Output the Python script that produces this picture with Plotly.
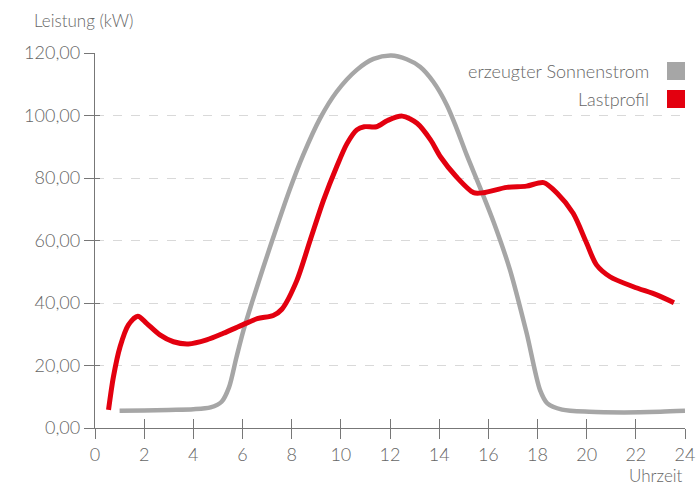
import plotly.graph_objects as go

# Erzeugter Sonnenstrom (grau)
sun_x = [1.0, 2.0, 3.0, 4.0, 4.7, 5.15, 5.45, 5.75, 6.03, 6.4, 6.85, 7.4, 7.93, 8.47, 9.15, 9.83,
         10.65, 11.33, 12.05, 12.68, 13.22, 13.76, 14.31, 14.71, 15.12, 15.66, 16.21, 16.88, 17.56,
         18.1, 18.4, 19.0, 20.1, 21.5, 23.0, 24.0]
sun_y = [5.5, 5.6, 5.8, 6.0, 6.6, 8.4, 13.0, 22.5, 31.0, 40.5, 51.5, 64.5, 76.5, 87.4, 99.0, 107.6,
         114.6, 118.1, 119.2, 118.0, 115.6, 110.8, 103.4, 95.9, 87.4, 77.0, 66.0, 50.6, 30.3,
         12.2, 7.9, 5.9, 5.2, 5.0, 5.2, 5.5]

# Lastprofil (rot)
load_x = [0.55, 0.75, 1.02, 1.36, 1.74, 2.1, 2.64, 3.19, 3.8, 4.54, 5.22, 6.0, 6.6, 7.25, 7.6, 8.2,
          8.75, 9.3, 9.83, 10.25, 10.65, 10.95, 11.45, 11.9, 12.5, 13.1, 13.65, 14.05, 14.7, 15.4,
          15.8, 16.75, 17.55, 18.25, 18.8, 19.45, 20.0, 20.4, 20.95, 21.9, 22.85, 23.55]
load_y = [5.8, 16.4, 26.0, 33.0, 35.8, 33.5, 29.8, 27.6, 26.9, 28.2, 30.3, 33.0, 35.0, 36.0, 38.0, 47.0,
          60.0, 73.0, 83.6, 91.0, 95.4, 96.4, 96.4, 98.4, 99.8, 97.5, 92.2, 86.8, 80.4, 75.3,
          75.3, 77.0, 77.4, 78.5, 75.1, 68.7, 59.1, 52.2, 48.4, 45.2, 42.6, 40.1]

x_ticks = list(range(0, 25, 2))
y_ticks = [0, 20, 40, 60, 80, 100, 120]
series_names = ["erzeugter Sonnenstrom", "Lastprofil"]
GRAY = "#a6a6a6"
RED = "#e3000f"
TXT = "#666666"
AX = "#777777"
FONT = "Lato"

fig = go.Figure()
fig.add_trace(go.Scatter(x=sun_x, y=sun_y, mode="lines", name=series_names[0],
                         line=dict(color=GRAY, width=4.5, shape="spline", smoothing=0.8)))
fig.add_trace(go.Scatter(x=load_x, y=load_y, mode="lines", name=series_names[1],
                         line=dict(color=RED, width=5, shape="spline", smoothing=0.8)))

fig.update_layout(
    width=697, height=487,
    margin=dict(l=95, r=12, t=53, b=59, autoexpand=False),
    paper_bgcolor="white", plot_bgcolor="white",
    showlegend=False,
    separators=",.",
    font=dict(family=FONT, color=TXT, size=17, weight=300),
    xaxis=dict(range=[0, 24], tickvals=x_ticks, ticks="outside", ticklen=10, tickcolor=AX,
               showline=True, linecolor=AX, linewidth=1.3, showgrid=False, zeroline=False,
               automargin=False, tickfont=dict(size=18, color=TXT, weight=300)),
    yaxis=dict(range=[0, 120], tickvals=y_ticks, tickformat=".2f", ticks="outside", ticklen=10,
               tickcolor=AX, showline=True, linecolor=AX, linewidth=1.3, automargin=False,
               showgrid=True, gridcolor="#d9d9d9", griddash="dash", gridwidth=1, zeroline=False,
               tickfont=dict(size=18, color=TXT, weight=300)),
    xaxis2=dict(range=[0, 24], tickvals=x_ticks, ticks="inside", ticklen=9, tickcolor=AX,
                overlaying="x", showticklabels=False, showgrid=False, zeroline=False,
                showline=False, automargin=False),
    yaxis2=dict(range=[0, 120], tickvals=y_ticks, ticks="inside", ticklen=5, tickcolor=AX,
                overlaying="y", showticklabels=False, showgrid=False, zeroline=False,
                showline=False, automargin=False),
)
# invisible trace for overlay axes
fig.add_trace(go.Scatter(x=[0], y=[0], xaxis="x2", yaxis="y2", mode="markers",
                         marker=dict(opacity=0), hoverinfo="skip", showlegend=False))

fig.add_annotation(text="Leistung (kW)", xref="paper", yref="paper", x=-63 / 590, y=1.0, yshift=33,
                   xanchor="left", yanchor="middle", showarrow=False,
                   font=dict(size=17, color=TXT, weight=300))
fig.add_annotation(text="Uhrzeit", xref="paper", yref="paper", x=1.0, y=0, yshift=-47,
                   xanchor="right", yanchor="middle", showarrow=False,
                   font=dict(size=17, color=TXT, weight=300))

# legend (text right-aligned, colour square on the right)
for i, (name, col) in enumerate(zip(series_names, [GRAY, RED])):
    ypix = 71 + i * 28
    yp = 1 - (ypix - 53) / 375
    fig.add_annotation(text=name, xref="paper", yref="paper", x=(651 - 95) / 590, y=yp,
                       xanchor="right", yanchor="middle", showarrow=False,
                       font=dict(size=18, color=TXT, weight=300))
    fig.add_shape(type="rect", xref="paper", yref="paper",
                  x0=(667 - 95) / 590, x1=(685 - 95) / 590,
                  y0=yp - 9 / 375, y1=yp + 9 / 375, fillcolor=col, line=dict(width=0))

fig.write_html("out.html", config={"displayModeBar": False},
               post_script="document.body.style.margin='0';document.body.style.overflow='hidden';")
